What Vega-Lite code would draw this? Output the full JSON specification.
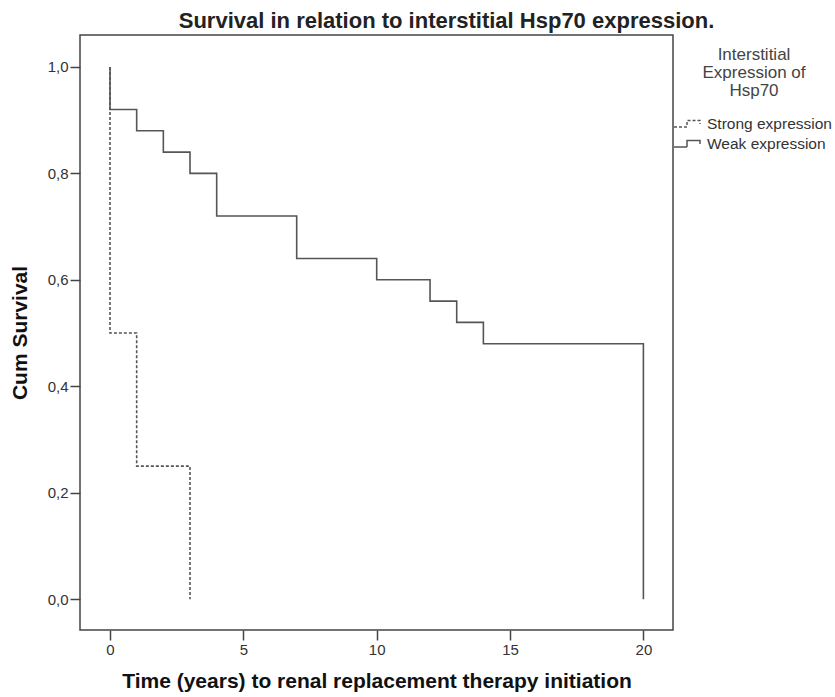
{
  "$schema": "https://vega.github.io/schema/vega-lite/v6.json",
  "autosize": {"type": "none"},
  "padding": {"left": 80, "top": 35, "right": 162, "bottom": 67},
  "width": 593,
  "height": 595,
  "background": "white",
  "title": {
    "text": "Survival in relation to interstitial Hsp70 expression.",
    "font": "Liberation Sans",
    "fontSize": 22,
    "fontWeight": "bold",
    "color": "#222",
    "anchor": "middle",
    "dx": 70,
    "offset": 2
  },
  "config": {
    "view": {"stroke": "#444", "strokeWidth": 1.5},
    "font": "Liberation Sans"
  },
  "data": {
    "values": [
      {"group": "Strong expression", "step": 0, "time": 0, "surv": 1.0},
      {"group": "Strong expression", "step": 1, "time": 0, "surv": 0.5},
      {"group": "Strong expression", "step": 2, "time": 1, "surv": 0.25},
      {"group": "Strong expression", "step": 3, "time": 3, "surv": 0.0},
      {"group": "Weak expression", "step": 0, "time": 0, "surv": 1.0},
      {"group": "Weak expression", "step": 1, "time": 0, "surv": 0.92},
      {"group": "Weak expression", "step": 2, "time": 1, "surv": 0.88},
      {"group": "Weak expression", "step": 3, "time": 2, "surv": 0.84},
      {"group": "Weak expression", "step": 4, "time": 3, "surv": 0.80},
      {"group": "Weak expression", "step": 5, "time": 4, "surv": 0.72},
      {"group": "Weak expression", "step": 6, "time": 7, "surv": 0.64},
      {"group": "Weak expression", "step": 7, "time": 10, "surv": 0.60},
      {"group": "Weak expression", "step": 8, "time": 12, "surv": 0.56},
      {"group": "Weak expression", "step": 9, "time": 13, "surv": 0.52},
      {"group": "Weak expression", "step": 10, "time": 14, "surv": 0.48},
      {"group": "Weak expression", "step": 11, "time": 20, "surv": 0.0}
    ]
  },
  "mark": {"type": "line", "interpolate": "step-after", "strokeWidth": 1.6, "color": "#555"},
  "encoding": {
    "x": {
      "field": "time",
      "type": "quantitative",
      "scale": {"domain": [-1.125, 21.11], "nice": false, "zero": false},
      "axis": {
        "title": "Time (years) to renal replacement therapy initiation",
        "values": [0, 5, 10, 15, 20],
        "grid": false,
        "domain": false,
        "tickSize": 10,
        "tickWidth": 1.5,
        "tickColor": "#444",
        "labelFontSize": 15,
        "labelColor": "#333",
        "labelPadding": 2,
        "titleFont": "Liberation Sans",
        "titleFontSize": 21,
        "titleFontWeight": "bold",
        "titleColor": "#111",
        "titlePadding": 13
      }
    },
    "y": {
      "field": "surv",
      "type": "quantitative",
      "scale": {"domain": [-0.058, 1.06], "nice": false, "zero": false},
      "axis": {
        "title": "Cum Survival",
        "values": [0, 0.2, 0.4, 0.6, 0.8, 1.0],
        "labelExpr": "replace(format(datum.value, '.1f'), '.', ',')",
        "grid": false,
        "domain": false,
        "tickSize": 10,
        "tickWidth": 1.5,
        "tickColor": "#444",
        "labelFontSize": 15,
        "labelColor": "#333",
        "labelPadding": 2,
        "titleFont": "Liberation Sans",
        "titleFontSize": 21,
        "titleFontWeight": "bold",
        "titleColor": "#111",
        "titlePadding": 17
      }
    },
    "strokeDash": {
      "field": "group",
      "type": "nominal",
      "scale": {"domain": ["Strong expression", "Weak expression"], "range": [[3, 2], [1, 0]]},
      "legend": {
        "orient": "none",
        "legendX": 597,
        "legendY": 12,
        "padding": 0,
        "title": ["Interstitial", "Expression of", "Hsp70"],
        "titleAlign": "center",
        "titleAnchor": "middle",
        "titleFontSize": 17,
        "titleFontWeight": "normal",
        "titleLineHeight": 18,
        "titleColor": "#444",
        "titlePadding": 13,
        "symbolType": "M-1.4,0.3 L-0.1,0.3 L-0.1,-0.35 L1.2,-0.35 L1.2,0",
        "symbolSize": 400,
        "symbolStrokeWidth": 1.5,
        "symbolStrokeColor": "#555",
        "labelFontSize": 15.5,
        "labelColor": "#333",
        "labelOffset": 8,
        "rowPadding": -1
      }
    },
    "order": {"field": "step", "type": "quantitative"}
  }
}
